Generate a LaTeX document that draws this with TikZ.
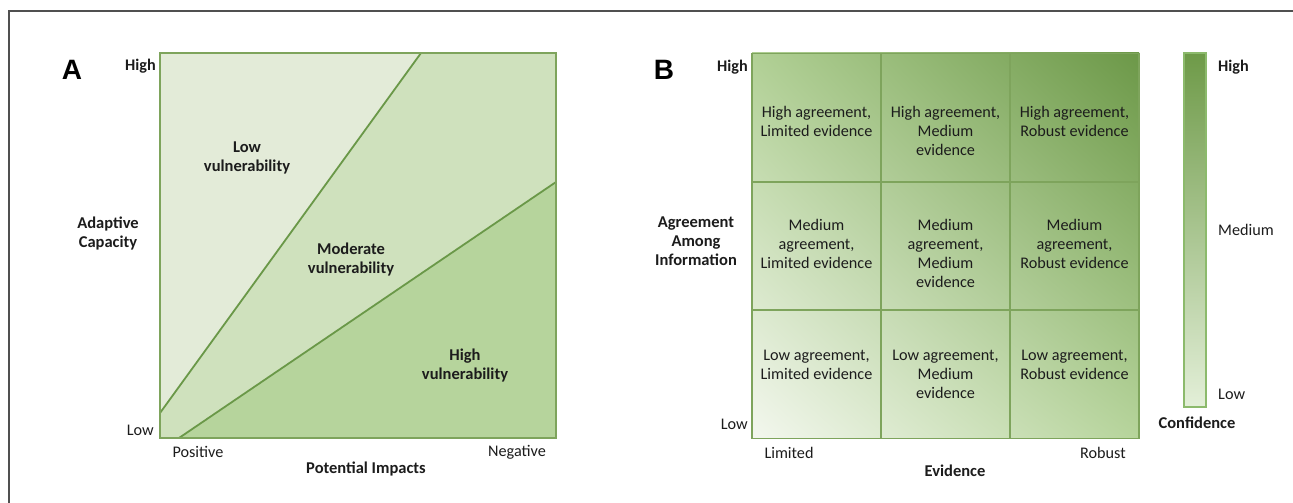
\documentclass[tikz,border=0pt]{standalone}
\usepackage{fontspec}
\usetikzlibrary{shadings}
\setmainfont{Carlito}
\newfontfamily\arialfont{Liberation Sans}
\definecolor{framec}{HTML}{505050}
\definecolor{lowv}{HTML}{E3EBD8}
\definecolor{modv}{HTML}{CFE1BD}
\definecolor{highv}{HTML}{B6D49C}
\definecolor{lineg}{HTML}{6A9848}
\definecolor{borderg}{HTML}{7EA45C}
\definecolor{gUL}{HTML}{B1D095}
\definecolor{gUR}{HTML}{6C9848}
\definecolor{gLL}{HTML}{F3F7EE}
\definecolor{gLR}{HTML}{B6D49B}
\definecolor{barTop}{HTML}{6E9A48}
\definecolor{barBot}{HTML}{E3EFD8}
\definecolor{barBorder}{HTML}{8CBA6C}
\definecolor{txt}{HTML}{1C1C1C}
\begin{document}
\begin{tikzpicture}[x=1pt,y=-1pt,
  every node/.style={font=\fontsize{16.2}{19}\selectfont, inner sep=0pt, text=txt},
  lbl/.style={font=\fontsize{16.5}{19}\selectfont\bfseries, align=center},
  tick/.style={font=\fontsize{16.2}{19}\selectfont},
  btick/.style={font=\fontsize{16.2}{19}\selectfont\bfseries},
  celltext/.style={align=center, anchor=north},
  panel/.style={font=\fontsize{28}{30}\selectfont\arialfont\bfseries, text=black},
  aline/.style={draw=lineg, line width=1.8pt},
  aborder/.style={draw=borderg, line width=2pt},
  cell/.style={draw=borderg, line width=1.6pt, minimum width=129pt, minimum height=128.3pt},
]
\useasboundingbox (0,0) rectangle (1293,503);
\fill[white] (0,0) rectangle (1293,503);
% frame
\coordinate (f1) at (9,510);
\coordinate (f2) at (9,11);
\coordinate (f3) at (1300,11);
\draw[framec, line width=2pt] (f1) -- (f2) -- (f3);

% ---------------- Panel A ----------------
\coordinate (aNW) at (160,53);
\coordinate (aNE) at (556,53);
\coordinate (aSE) at (556,438);
\coordinate (aSW) at (160,438);
\coordinate (u1) at (160,413);
\coordinate (u2) at (421,53);
\coordinate (l1) at (179,438);
\coordinate (l2) at (556,182);
\fill[lowv] (aNW) -- (u2) -- (u1) -- cycle;
\fill[modv] (u2) -- (aNE) -- (l2) -- (l1) -- (aSW) -- (u1) -- cycle;
\fill[highv] (l1) -- (l2) -- (aSE) -- cycle;
\draw[aline] (u1) -- (u2);
\draw[aline] (l1) -- (l2);
\draw[aborder] (aNW) rectangle (aSE);

\node[panel] (labA) at (72,70) {A};
\node[btick, anchor=east] (aHigh) at (156,66) {High};
\node[tick, anchor=east] (aLow) at (154,430) {Low};
\node[lbl] (adcap) at (108,233) {Adaptive\\Capacity};
\node[lbl] (lowvul) at (247,158) {Low\\vulnerability};
\node[lbl] (modvul) at (351,260) {Moderate\\vulnerability};
\node[lbl] (highvul) at (465,366) {High\\vulnerability};
\node[tick] (pos) at (198,452) {Positive};
\node[tick] (neg) at (517,452) {Negative};
\node[lbl] (potimp) at (366,469) {Potential Impacts};

% ---------------- Panel B ----------------
\shade[upper left=gUL, upper right=gUR, lower left=gLL, lower right=gLR]
  (752,53) rectangle (1139,438);
\foreach \c/\x in {1/816.5,2/945.5,3/1074.5}{
  \foreach \r/\y in {1/117.5,2/246,3/374.5}{
    \node[cell] (c\r\c) at (\x,\y) {};
  }
}
\node[celltext] (t11) at (816.5,106.5) {High agreement,\\Limited evidence};
\node[celltext] (t12) at (945.5,106.5) {High agreement,\\Medium\\evidence};
\node[celltext] (t13) at (1074.5,106.5) {High agreement,\\Robust evidence};
\node[celltext] (t21) at (816.5,219) {Medium\\agreement,\\Limited evidence};
\node[celltext] (t22) at (945.5,219) {Medium\\agreement,\\Medium\\evidence};
\node[celltext] (t23) at (1074.5,219) {Medium\\agreement,\\Robust evidence};
\node[celltext] (t31) at (816.5,350) {Low agreement,\\Limited evidence};
\node[celltext] (t32) at (945.5,350) {Low agreement,\\Medium\\evidence};
\node[celltext] (t33) at (1074.5,350) {Low agreement,\\Robust evidence};

\node[panel] (labB) at (664,70) {B};
\node[btick, anchor=east] (bHigh) at (748,67) {High};
\node[tick, anchor=east] (bLow) at (748,424) {Low};
\node[lbl] (agree) at (696,241) {Agreement\\Among\\Information};
\node[tick] (lim) at (789,453) {Limited};
\node[tick] (rob) at (1103,453) {Robust};
\node[lbl] (evid) at (955,471) {Evidence};

% confidence bar
\shade[top color=barTop, bottom color=barBot] (1184,53) rectangle (1206,407);
\node[draw=barBorder, line width=1.5pt, minimum width=22pt, minimum height=354pt] (bar) at (1195,230) {};
\node[btick, anchor=west] (cHigh) at (1218,67) {High};
\node[tick, anchor=west] (cMed) at (1218,230) {Medium};
\node[tick, anchor=west] (cLow) at (1218,394) {Low};
\node[lbl] (conf) at (1197,423) {Confidence};
\end{tikzpicture}
\end{document}
